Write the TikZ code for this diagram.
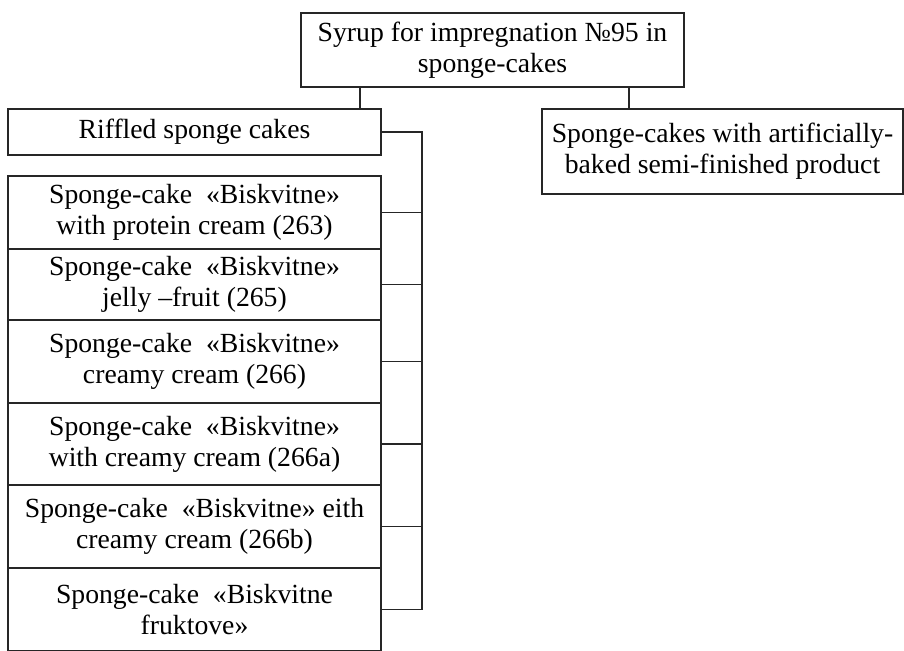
\documentclass[tikz,border=0pt]{standalone}
\usepackage{fontspec}
\setmainfont{Liberation Serif}
\usetikzlibrary{positioning}

\begin{document}
\begin{tikzpicture}[
    x=1pt, y=1pt,
    % Define styles for consistency
    main_box/.style={draw=black!85, line width=1.3pt, align=center, inner sep=0pt,
        font=\fontsize{27.7}{31}\selectfont},
    cake_box/.style={main_box, minimum width=373pt},
    link_line/.style={draw=black!85, line width=1.3pt}
]
    \useasboundingbox (0,0) rectangle (904,-650);

    % ---------------------------------------------------------
    % 1. The syrup and the two groups of cakes
    % ---------------------------------------------------------
    \node[main_box, minimum width=383pt, minimum height=74pt] (syrup) at (492.5,-50)
        {Syrup for impregnation №95 in\\ sponge-cakes};
    \node[cake_box, minimum height=46pt] (riffled) at (194.5,-132) {Riffled sponge cakes};
    \node[main_box, minimum width=361pt, minimum height=85pt] (artificial) at (722.5,-151.5)
        {Sponge-cakes with artificially-\\ baked semi-finished product};

    % Drops from the syrup box
    \coordinate (drop_left) at ([xshift=-132.5pt]syrup.south);
    \coordinate (drop_right) at ([xshift=136.5pt]syrup.south);
    \draw[link_line] (drop_left) -- (drop_left |- riffled.north);
    \draw[link_line] (drop_right) -- (drop_right |- artificial.north);

    % ---------------------------------------------------------
    % 2. The stack of riffled sponge cakes
    % ---------------------------------------------------------
    \foreach \i/\y/\h/\txt in {
        1/-212.5/73/{Sponge-cake~~«Biskvitne»\\ with protein cream (263)},
        2/-284.5/71/{Sponge-cake~~«Biskvitne»\\ jelly –fruit (265)},
        3/-361.5/83/{Sponge-cake~~«Biskvitne»\\ creamy cream (266)},
        4/-444/82/{Sponge-cake~~«Biskvitne»\\ with creamy cream (266a)},
        5/-526.5/83/{Sponge-cake~~«Biskvitne» eith\\ creamy cream (266b)},
        6/-609.5/83/{Sponge-cake~~«Biskvitne\\ fruktove»}} {
        \node[cake_box, minimum height=\h pt] (cake\i) at (194.5,\y) {\txt};
    }

    % ---------------------------------------------------------
    % 3. The bracket on the right of the stack
    % ---------------------------------------------------------
    \coordinate (spine) at (422,-132);
    \draw[link_line] (riffled.east) -- (spine) |- (cake6.east);
    \foreach \i in {1,...,5} {
        \draw[link_line] (cake\i.east) -- (cake\i.east -| spine);
    }
\end{tikzpicture}
\end{document}
